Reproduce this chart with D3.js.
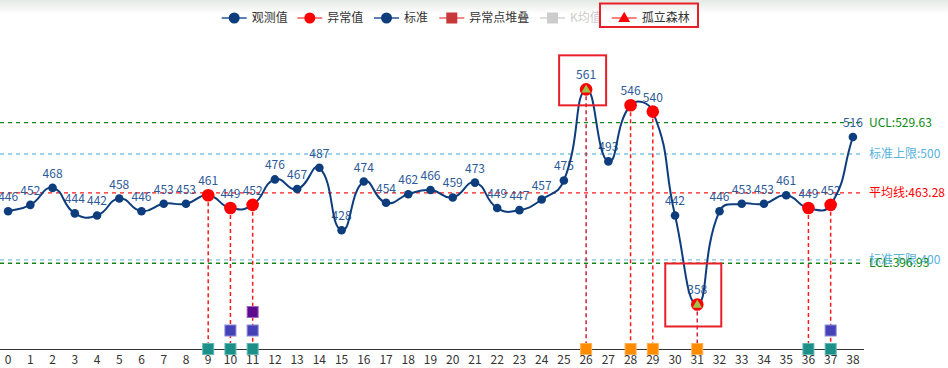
<!DOCTYPE html>
<html><head><meta charset="utf-8">
<script src="https://cdn.jsdelivr.net/npm/d3@7"></script>
<style>
html,body{margin:0;padding:0;background:#fff;}
svg{display:block;font-family:"Microsoft YaHei","Noto Sans CJK SC",sans-serif;}
</style></head>
<body><svg id="chart" width="948" height="368"></svg>
<script>
const categories = ["0","1","2","3","4","5","6","7","8","9","10","11","12","13","14","15","16","17","18","19","20","21","22","23","24","25","26","27","28","29","30","31","32","33","34","35","36","37","38"];
const observed = [446,452,468,444,442,458,446,453,453,461,449,452,476,467,487,428,474,454,462,466,459,473,449,447,457,475,561,493,546,540,442,358,446,453,453,461,449,452,516];
const anomalyIdx = [9,10,11,26,28,29,31,36,37];
const iforestIdx = [26,31];
const stackTeal = [9,10,11,36,37];
const stackBlue = [10,11,37];
const stackPurple = [11];
const stackOrange = [26,28,29,31];
const ucl = 529.63, lcl = 396.93, meanV = 463.28, stdUpper = 500, stdLower = 400;
const legendNames = ["观测值","异常值","标准","异常点堆叠","K均值","孤立森林"];

const svg = d3.select("#chart");
const W = 948, H = 368;

// top shading
const defs = svg.append("defs");
const g0 = defs.append("linearGradient").attr("id","topShade").attr("x1",0).attr("y1",0).attr("x2",0).attr("y2",1);
g0.append("stop").attr("offset","0%").attr("stop-color","#e4e9e4");
g0.append("stop").attr("offset","100%").attr("stop-color","#ffffff");
svg.append("rect").attr("x",0).attr("y",0).attr("width",W).attr("height",14).attr("fill","url(#topShade)");

const x = d3.scaleBand().domain(categories).range([-3, 864]);
const cx = i => x(categories[i]) + x.bandwidth()/2;
const y = d3.scaleLinear().domain([316, 600]).range([349, 48]);
const stackY = d3.scaleLinear().domain([0,1]).range([349, 330.5]);

// ECharts-like smooth curve
function EcSmooth(context){ this._context = context; }
EcSmooth.prototype = {
  areaStart(){}, areaEnd(){},
  lineStart(){ this._p = []; },
  point(a,b){ this._p.push([+a,+b]); },
  lineEnd(){
    const p = this._p, c = this._context, s = 0.5, n = p.length;
    if (!n) return;
    const cin = [], cout = [];
    for (let i=0;i<n;i++){
      const cur = p[i], prev = p[Math.max(0,i-1)], next = p[Math.min(n-1,i+1)];
      const vx = next[0]-prev[0], vy = next[1]-prev[1];
      const l0 = Math.hypot(cur[0]-prev[0], cur[1]-prev[1]);
      const l1 = Math.hypot(next[0]-cur[0], next[1]-cur[1]);
      const r = (l0+l1) ? l1/(l0+l1) : 0.5;
      cout[i] = [cur[0]+vx*s*r, cur[1]+vy*s*r];
      cin[i] = [cur[0]-vx*s*(1-r), cur[1]-vy*s*(1-r)];
    }
    c.moveTo(p[0][0],p[0][1]);
    for (let i=1;i<n;i++){
      c.bezierCurveTo(cout[i-1][0],cout[i-1][1],cin[i][0],cin[i][1],p[i][0],p[i][1]);
    }
  }
};
const ecCurve = ctx => new EcSmooth(ctx);

// x axis
const xAxis = svg.append("g").attr("transform","translate(0,349)")
  .call(d3.axisBottom(x).tickSize(0).tickPadding(6));
xAxis.select(".domain").attr("stroke","#333").attr("stroke-width",1).attr("d","M0,0.5H864");
xAxis.selectAll("text").attr("fill","#333").attr("font-size",12).attr("font-family",'"Microsoft YaHei","Noto Sans CJK SC",sans-serif');

// horizontal reference lines
const hlines = [
  {v:ucl, color:"#11881a", label:"UCL:"+ucl, lc:"#0b8a12", dy:0},
  {v:stdUpper, color:"#7cc3e0", label:"标准上限:"+stdUpper, lc:"#58b2dc", dy:0},
  {v:meanV, color:"#ff1a1a", label:"平均线:"+meanV, lc:"#ff0000", dy:0},
  {v:stdLower, color:"#7cc3e0", label:"标准下限:"+stdLower, lc:"#58b2dc", dy:0},
  {v:lcl, color:"#11881a", label:"LCL:"+lcl, lc:"#0b8a12", dy:0}
];
hlines.forEach(h=>{
  svg.append("line").attr("x1",0).attr("x2",864).attr("y1",y(h.v)).attr("y2",y(h.v))
    .attr("stroke",h.color).attr("stroke-width",1.3).attr("stroke-dasharray","4,4");
});

// vertical dashed lines from anomalies
anomalyIdx.forEach(i=>{
  const isF = iforestIdx.includes(i);
  svg.append("line").attr("x1",cx(i)).attr("x2",cx(i)).attr("y1",y(observed[i])).attr("y2",349)
    .attr("stroke", isF ? "#c8243c" : "#ff1a1a").attr("stroke-width",1.5).attr("stroke-dasharray","4,3");
});

// stacked squares
const stacks = [
  {idx:stackTeal, color:"#1c9088", stroke:"#5fb8b2"},
  {idx:stackOrange, color:"#ff8c00", stroke:"#ffb050"},
  {idx:stackBlue, color:"#4542b8", stroke:"#8a88d8"},
  {idx:stackPurple, color:"#5e0a8e", stroke:"#9a66c0"}
];
const level = {};
stacks.forEach(s=>{
  s.idx.forEach(i=>{
    const lv = level[i]||0; level[i] = lv+1;
    svg.append("rect").attr("x",cx(i)-5.5).attr("y",stackY(lv)-5.5).attr("width",11).attr("height",11)
      .attr("fill",s.color).attr("stroke",s.stroke).attr("stroke-width",1);
  });
});

// data labels
svg.append("g").selectAll("text").data(observed).join("text")
  .attr("x",(d,i)=>cx(i)).attr("y",(d,i)=>y(d)-10)
  .attr("text-anchor","middle").attr("font-size",12).attr("fill","#2d5a98").text(d=>d);

// curve
const line = d3.line().x((d,i)=>cx(i)).y(d=>y(d)).curve(ecCurve);
svg.append("path").datum(observed).attr("d",line).attr("fill","none").attr("stroke","#0e3d7e").attr("stroke-width",2);

// points
svg.append("g").selectAll("circle").data(observed).join("circle")
  .attr("cx",(d,i)=>cx(i)).attr("cy",d=>y(d)).attr("r",4.3).attr("fill","#0e3d7e");
svg.append("g").selectAll("circle").data(anomalyIdx).join("circle")
  .attr("cx",i=>cx(i)).attr("cy",i=>y(observed[i])).attr("r",6.3).attr("fill","#ff0000");
const tri = d3.symbol().type(d3.symbolTriangle).size(38);
svg.append("g").selectAll("path").data(iforestIdx).join("path")
  .attr("d",tri).attr("transform",i=>`translate(${cx(i)},${y(observed[i])+0.5})`).attr("fill","#9cc44a");

// line labels on right
hlines.forEach(h=>{
  svg.append("text").attr("x",869).attr("y",y(h.v)).attr("dy","0.35em")
    .attr("font-size",12).attr("fill",h.lc).text(h.label);
});

// annotation boxes
svg.append("rect").attr("x",cx(26)-27).attr("y",y(observed[26])-34).attr("width",47).attr("height",50)
  .attr("fill","none").attr("stroke","#e8202a").attr("stroke-width",2);
svg.append("rect").attr("x",cx(31)-32).attr("y",y(observed[31])-41).attr("width",56).attr("height",63)
  .attr("fill","none").attr("stroke","#e8202a").attr("stroke-width",2);

// legend
const legendX = [221.7, 297.3, 374, 439.3, 540, 611.7];
const legend = svg.append("g");
legendNames.forEach((name,k)=>{
  const lx = legendX[k], ly = 18;
  const g = legend.append("g");
  let lineC, symC, sym;
  if (k===0||k===2){ lineC="#5b7fb3"; symC="#0e3d7e"; sym="circle"; }
  else if (k===1){ lineC="#ff8080"; symC="#ff0000"; sym="circle"; }
  else if (k===3){ lineC="#f08a88"; symC="#c8383a"; sym="square"; }
  else if (k===4){ lineC="#dddddd"; symC="#cccccc"; sym="square"; }
  else { lineC="#ff8080"; symC="#ff0000"; sym="triangle"; }
  g.append("line").attr("x1",lx).attr("x2",lx+25).attr("y1",ly).attr("y2",ly).attr("stroke",lineC).attr("stroke-width",2);
  if (sym==="circle") g.append("circle").attr("cx",lx+12.5).attr("cy",ly).attr("r",5.5).attr("fill",symC);
  else if (sym==="square") g.append("rect").attr("x",lx+7).attr("y",ly-5.5).attr("width",11).attr("height",11).attr("fill",symC);
  else g.append("path").attr("d",d3.symbol().type(d3.symbolTriangle).size(60)).attr("transform",`translate(${lx+12.5},${ly+0.5})`).attr("fill",symC);
  g.append("text").attr("x",lx+30).attr("y",ly).attr("dy","0.35em").attr("font-size",12)
    .attr("fill",k===4?"#cccccc":"#333").text(name);
});
legend.append("rect").attr("x",600).attr("y",3.5).attr("width",98).attr("height",23.5)
  .attr("fill","none").attr("stroke","#e8202a").attr("stroke-width",2);
</script>
</body></html>
